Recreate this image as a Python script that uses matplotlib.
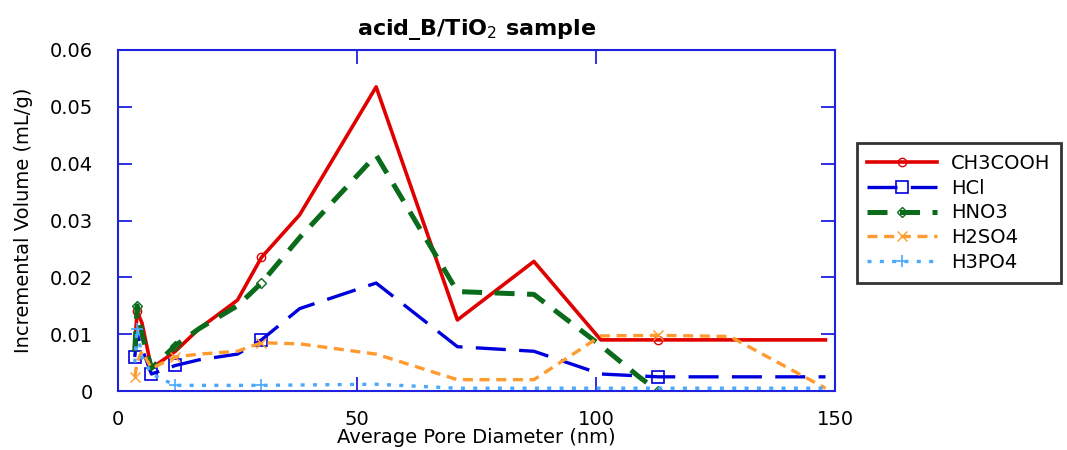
import matplotlib.pyplot as plt

plt.rcParams['font.family'] = ['DejaVu Sans']

# data
x_ch3cooh = [3.5, 4, 5, 7, 12, 17, 25, 30, 38, 54, 71, 87, 101, 113, 148]
y_ch3cooh = [0.008, 0.014, 0.012, 0.004, 0.007, 0.011, 0.016, 0.0235, 0.031, 0.0535, 0.0125, 0.0228, 0.009, 0.009, 0.009]

x_hcl = [3.5, 4, 5, 7, 12, 17, 25, 30, 38, 54, 71, 87, 101, 113, 148]
y_hcl = [0.006, 0.010, 0.0075, 0.003, 0.0045, 0.0055, 0.0065, 0.009, 0.0145, 0.019, 0.0078, 0.007, 0.003, 0.0025, 0.0025]

x_hno3 = [3.5, 4, 5, 7, 12, 17, 25, 30, 38, 54, 71, 87, 101, 109, 113]
y_hno3 = [0.007, 0.015, 0.010, 0.004, 0.008, 0.011, 0.015, 0.019, 0.027, 0.0415, 0.0175, 0.017, 0.008, 0.0025, 0.0]

x_h2so4 = [3.5, 4, 5, 7, 12, 17, 25, 30, 38, 54, 71, 87, 101, 113, 128, 148]
y_h2so4 = [0.0025, 0.005, 0.007, 0.004, 0.006, 0.0065, 0.007, 0.0085, 0.0083, 0.0065, 0.002, 0.002, 0.0097, 0.0098, 0.0096, 0.0005]

x_h3po4 = [3.5, 4, 5, 7, 12, 30, 54, 71, 148]
y_h3po4 = [0.005, 0.011, 0.006, 0.003, 0.001, 0.001, 0.0012, 0.0005, 0.0005]

fig = plt.figure(figsize=(10.67, 4.5), dpi=100)
ax = fig.add_axes([0.1106, 0.131, 0.672, 0.758])

ax.plot(x_ch3cooh, y_ch3cooh, color='#e00000', lw=2.6, ls='-',
        marker='o', ms=6, mfc='none', mew=1, markevery=[1, 7, 13], label='CH3COOH')
ax.plot(x_hcl, y_hcl, color='#0000dd', lw=2.4, dashes=(9, 4),
        marker='s', ms=8, mfc='none', mew=1.2, markevery=[0, 3, 4, 7, 13], label='HCl')
ax.plot(x_hno3, y_hno3, color='#0a6b1a', lw=3.6, dashes=(4, 2.5),
        marker='D', ms=5, mfc='none', mew=1, markevery=[1, 4, 7, 14], label='HNO3')
ax.plot(x_h2so4, y_h2so4, color='#ff9a2e', lw=2.4, dashes=(3, 2),
        marker='x', ms=7, mew=1, markevery=[0, 4, 7, 13], label='H2SO4')
ax.plot(x_h3po4, y_h3po4, color='#4aa8ff', lw=2.4, dashes=(1.2, 2.5),
        marker='+', ms=9, mew=1.2, markevery=[1, 4, 5], label='H3PO4')

ax.set_xlim(0, 150)
ax.set_ylim(0, 0.06)
ax.set_xticks([0, 50, 100, 150])
ax.set_yticks([0, 0.01, 0.02, 0.03, 0.04, 0.05, 0.06])
ax.set_yticklabels(['0', '0.01', '0.02', '0.03', '0.04', '0.05', '0.06'])
for s in ax.spines.values():
    s.set_color('#2020e0')
    s.set_linewidth(1.5)
ax.tick_params(direction='in', length=10, width=1.3, color='#2020e0',
               top=True, right=True, labelsize=14)
ax.tick_params(axis='x', pad=14)
ax.tick_params(axis='y', pad=18)

ax.set_xlabel('Average Pore Diameter (nm)', fontsize=14, labelpad=-1)
ax.set_ylabel('Incremental Volume (mL/g)', fontsize=14, labelpad=12)
ax.set_title('acid_B/TiO$_2$ sample', fontsize=16, fontweight='bold', pad=11)

leg = fig.legend(loc='upper left', bbox_to_anchor=(0.803, 0.682), fontsize=14,
                 frameon=True, fancybox=False, handlelength=3.6, handletextpad=0.7,
                 labelspacing=0.3, borderpad=0.55, borderaxespad=0)
leg.get_frame().set_edgecolor('black')
leg.get_frame().set_linewidth(2)

fig.savefig('out.png', dpi=100)
